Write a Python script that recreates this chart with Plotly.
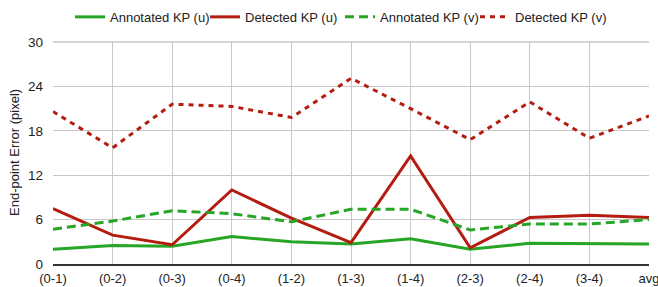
import plotly.graph_objects as go

categories = ["(0-1)", "(0-2)", "(0-3)", "(0-4)", "(1-2)", "(1-3)", "(1-4)", "(2-3)", "(2-4)", "(3-4)", "avg"]
annotated_u = [2.0, 2.5, 2.4, 3.7, 3.0, 2.7, 3.4, 2.0, 2.8, 2.7, 2.7]
detected_u = [7.5, 3.9, 2.6, 10.0, 6.2, 2.9, 14.6, 2.2, 6.3, 6.6, 6.3]
annotated_v = [4.7, 5.8, 7.2, 6.8, 5.7, 7.4, 7.4, 4.6, 5.4, 5.4, 6.0]
detected_v = [20.6, 15.7, 21.6, 21.3, 19.8, 25.1, 21.0, 16.8, 21.9, 17.0, 20.0]
y_ticks = [0, 6, 12, 18, 24, 30]
y_title = "End-point Error (pixel)"

GREEN = "#27A526"
RED = "#B41C10"

fig = go.Figure()
fig.add_trace(go.Scatter(x=categories, y=annotated_u, name="Annotated KP (u)", mode="lines",
                         line=dict(color=GREEN, width=3)))
fig.add_trace(go.Scatter(x=categories, y=detected_u, name="Detected KP (u)", mode="lines",
                         line=dict(color=RED, width=3)))
fig.add_trace(go.Scatter(x=categories, y=annotated_v, name="Annotated KP (v)", mode="lines",
                         line=dict(color=GREEN, width=3, dash="9px,5px")))
fig.add_trace(go.Scatter(x=categories, y=detected_v, name="Detected KP (v)", mode="lines",
                         line=dict(color=RED, width=3, dash="5px,5px")))

fig.update_layout(
    width=658, height=287,
    margin=dict(l=53, r=9, t=42, b=23, autoexpand=False),
    paper_bgcolor="white", plot_bgcolor="white",
    font=dict(family="Liberation Sans, Arial, sans-serif", size=13, color="#222"),
    legend=dict(orientation="h", xref="container", x=70 / 658, xanchor="left",
                yref="paper", y=1.113, yanchor="middle",
                font=dict(size=13), itemwidth=30, traceorder="normal",
                entrywidth=90, entrywidthmode="pixels"),
    showlegend=True,
)
fig.update_xaxes(range=[0, len(categories) - 1], showgrid=True, gridcolor="#c8c8c8", gridwidth=1,
                 showline=True, linecolor="#333", linewidth=1.5, mirror=False, automargin=False,
                 tickfont=dict(size=13), ticks="", ticklabelstandoff=2, fixedrange=True)
fig.update_yaxes(range=[0, 30], tickvals=y_ticks, showgrid=True, gridcolor="#c8c8c8", gridwidth=1,
                 zeroline=False, showline=False, ticks="", tickfont=dict(size=13.5), automargin=False,
                 ticklabelstandoff=9)
fig.add_annotation(text=y_title, xref="paper", yref="paper", x=-39 / 596, y=0.5,
                   xanchor="center", yanchor="middle", textangle=-90, showarrow=False,
                   font=dict(size=13, color="#222"))
# top border line
fig.add_shape(type="line", xref="paper", yref="paper", x0=0, x1=1, y0=1, y1=1,
              line=dict(color="#c8c8c8", width=1.5))

fig.write_html("out.html", config={"displayModeBar": False},
               post_script="document.body.style.margin='0';document.body.style.overflow='hidden';")
